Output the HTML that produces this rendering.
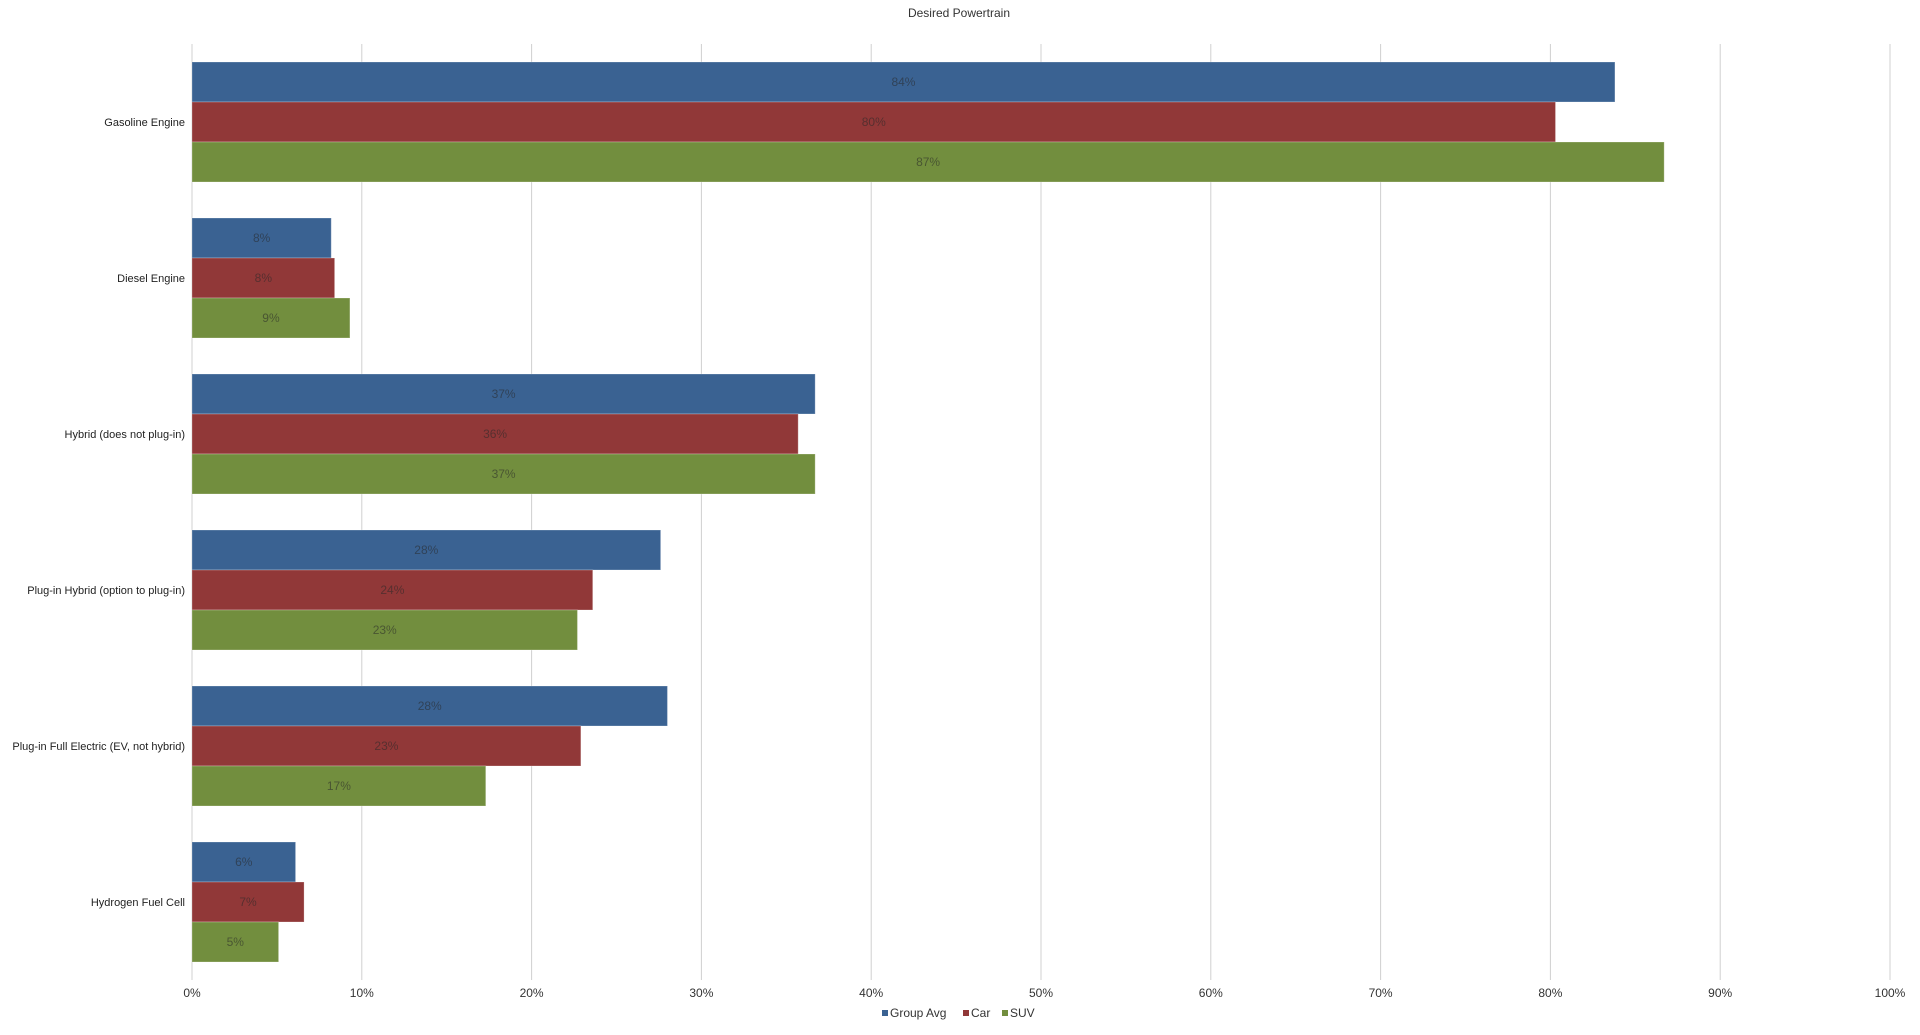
<!DOCTYPE html>
<html><head><meta charset="utf-8"><style>
html,body{margin:0;padding:0;background:#fff;}
svg{display:block;font-family:"Liberation Sans",sans-serif;}
</style></head><body>
<svg id="chart" width="1920" height="1035">
<text x="959" y="17" text-anchor="middle" font-size="12" fill="#333">Desired Powertrain</text>
<g id="grid"></g><g id="bars"></g><g id="labels"></g><g id="legend"></g>
</svg>
<script>
const categories = ["Gasoline Engine","Diesel Engine","Hybrid (does not plug-in)","Plug-in Hybrid (option to plug-in)","Plug-in Full Electric (EV, not hybrid)","Hydrogen Fuel Cell"];
const seriesNames = ["Group Avg","Car","SUV"];
const groupAvg = [83.8, 8.2, 36.7, 27.6, 28.0, 6.1];
const car = [80.3, 8.4, 35.7, 23.6, 22.9, 6.6];
const suv = [86.7, 9.3, 36.7, 22.7, 17.3, 5.1];
const tickValues = [0,10,20,30,40,50,60,70,80,90,100];

const series = [groupAvg, car, suv];
const colors = ["#3a6292","#913838","#728e3e"];
const NS = "http://www.w3.org/2000/svg";
const X0 = 192, X1 = 1890, TOP = 44, BAND = 156;
const x = v => X0 + (X1 - X0) * v / 100;
const bandY = i => TOP + i * BAND;
const BARH = 40, GROUPH = 120;
function mk(tag, attrs, parent){const e=document.createElementNS(NS,tag);for(const k in attrs)e.setAttribute(k,attrs[k]);parent.appendChild(e);return e;}
const grid=document.getElementById('grid'), bars=document.getElementById('bars'), labels=document.getElementById('labels'), legend=document.getElementById('legend');
const bottom = bandY(categories.length);
tickValues.forEach(t=>{
  const l=mk('line',{x1:x(t),x2:x(t),y1:TOP,y2:bottom,stroke:'#d0d0d0','stroke-width':1},grid);
  
  
  const tx=mk('text',{x:x(t),y:997,'text-anchor':'middle','font-size':12,fill:'#333'},grid);
  tx.textContent=t+'%';
  
  
});
categories.forEach((c,i)=>{
  const cy = bandY(i)+BAND/2;
  const t=mk('text',{x:185,y:cy+4,'text-anchor':'end','font-size':11,fill:'#222'},labels);
  t.textContent=c;
  
  
  const gy = cy - GROUPH/2;
  series.forEach((s,j)=>{
    const y = gy + j*BARH;
    const r=mk('rect',{x:x(0),y:y,width:x(s[i])-x(0),height:BARH,fill:colors[j],stroke:'rgba(255,255,255,0.25)','stroke-width':1},bars);
    
    
    const v=mk('text',{x:(x(0)+x(s[i]))/2,y:y+BARH/2+4,'text-anchor':'middle','font-size':12,fill:'rgba(40,40,40,0.55)'},bars);
    v.textContent=Math.round(s[i])+'%';
    
    
  });
});
let lx=882;
seriesNames.forEach((n,j)=>{
  const r=mk('rect',{x:lx,y:1010,width:6,height:6,fill:colors[j]},legend);
  
  
  const t=mk('text',{x:lx+8,y:1017,'font-size':12,fill:'#333'},legend);
  t.textContent=n;
  
  
  lx += 8 + n.length*7 + 10;
});
</script>
</body></html>
